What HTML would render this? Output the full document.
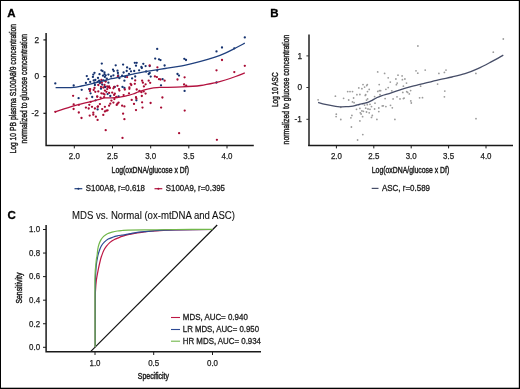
<!DOCTYPE html>
<html><head><meta charset="utf-8"><title>Figure</title>
<style>html,body{margin:0;padding:0;background:#fff;width:520px;height:389px;overflow:hidden}svg{display:block;will-change:transform;opacity:0.999}</style>
</head><body>
<svg width="520" height="389" viewBox="0 0 520 389">
<rect x="0" y="0" width="520" height="389" fill="#fff"/>
<text x="7.2" y="17.4" font-family="Liberation Sans, sans-serif" font-weight="bold" font-size="11.5" fill="#000" stroke="#000" stroke-width="0.3">A</text>
<g fill="#15326f"><circle cx="55.3" cy="83.4" r="1.15"/><circle cx="73.7" cy="85.5" r="1.15"/><circle cx="81.7" cy="89.8" r="1.15"/><circle cx="78.6" cy="98.2" r="1.15"/><circle cx="86.8" cy="76.1" r="1.15"/><circle cx="85.9" cy="82.9" r="1.15"/><circle cx="92.2" cy="97.0" r="1.15"/><circle cx="97.6" cy="109.4" r="1.15"/><circle cx="101.8" cy="63.6" r="1.15"/><circle cx="115.7" cy="65.3" r="1.15"/><circle cx="101.4" cy="70.3" r="1.15"/><circle cx="102.6" cy="71.1" r="1.15"/><circle cx="104.5" cy="72.3" r="1.15"/><circle cx="113.0" cy="69.6" r="1.15"/><circle cx="113.8" cy="71.1" r="1.15"/><circle cx="94.5" cy="72.8" r="1.15"/><circle cx="93.3" cy="74.6" r="1.15"/><circle cx="99.5" cy="74.2" r="1.15"/><circle cx="104.5" cy="74.2" r="1.15"/><circle cx="105.7" cy="75.3" r="1.15"/><circle cx="108.4" cy="74.6" r="1.15"/><circle cx="103.0" cy="75.7" r="1.15"/><circle cx="113.4" cy="75.3" r="1.15"/><circle cx="111.1" cy="76.5" r="1.15"/><circle cx="104.9" cy="76.9" r="1.15"/><circle cx="92.9" cy="76.9" r="1.15"/><circle cx="98.0" cy="77.9" r="1.15"/><circle cx="106.8" cy="78.7" r="1.15"/><circle cx="88.3" cy="79.2" r="1.15"/><circle cx="93.7" cy="80.4" r="1.15"/><circle cx="95.3" cy="80.0" r="1.15"/><circle cx="99.1" cy="80.7" r="1.15"/><circle cx="103.3" cy="80.4" r="1.15"/><circle cx="90.2" cy="81.9" r="1.15"/><circle cx="94.5" cy="82.7" r="1.15"/><circle cx="97.6" cy="81.9" r="1.15"/><circle cx="100.3" cy="81.9" r="1.15"/><circle cx="105.3" cy="81.1" r="1.15"/><circle cx="108.4" cy="82.7" r="1.15"/><circle cx="94.9" cy="85.0" r="1.15"/><circle cx="102.2" cy="84.6" r="1.15"/><circle cx="99.9" cy="83.1" r="1.15"/><circle cx="105.3" cy="86.9" r="1.15"/><circle cx="89.1" cy="89.1" r="1.15"/><circle cx="90.6" cy="93.3" r="1.15"/><circle cx="101.0" cy="88.7" r="1.15"/><circle cx="104.9" cy="87.2" r="1.15"/><circle cx="110.3" cy="96.0" r="1.15"/><circle cx="95.6" cy="100.3" r="1.15"/><circle cx="107.6" cy="94.1" r="1.15"/><circle cx="123.1" cy="64.6" r="1.15"/><circle cx="134.8" cy="62.8" r="1.15"/><circle cx="136.7" cy="62.8" r="1.15"/><circle cx="136.0" cy="65.7" r="1.15"/><circle cx="143.3" cy="63.8" r="1.15"/><circle cx="127.1" cy="67.4" r="1.15"/><circle cx="129.8" cy="68.8" r="1.15"/><circle cx="141.4" cy="66.9" r="1.15"/><circle cx="141.8" cy="68.0" r="1.15"/><circle cx="117.5" cy="70.7" r="1.15"/><circle cx="126.7" cy="71.0" r="1.15"/><circle cx="131.0" cy="71.3" r="1.15"/><circle cx="134.2" cy="71.0" r="1.15"/><circle cx="139.1" cy="70.3" r="1.15"/><circle cx="123.6" cy="72.5" r="1.15"/><circle cx="129.0" cy="73.8" r="1.15"/><circle cx="117.9" cy="73.0" r="1.15"/><circle cx="118.2" cy="75.3" r="1.15"/><circle cx="122.1" cy="75.7" r="1.15"/><circle cx="119.4" cy="78.2" r="1.15"/><circle cx="125.2" cy="76.9" r="1.15"/><circle cx="132.1" cy="78.4" r="1.15"/><circle cx="135.2" cy="76.5" r="1.15"/><circle cx="124.4" cy="80.7" r="1.15"/><circle cx="122.5" cy="86.9" r="1.15"/><circle cx="114.8" cy="86.9" r="1.15"/><circle cx="124.4" cy="87.9" r="1.15"/><circle cx="118.6" cy="96.4" r="1.15"/><circle cx="136.4" cy="100.3" r="1.15"/><circle cx="155.2" cy="58.6" r="1.15"/><circle cx="159.0" cy="59.3" r="1.15"/><circle cx="160.5" cy="60.1" r="1.15"/><circle cx="145.6" cy="66.1" r="1.15"/><circle cx="149.7" cy="66.1" r="1.15"/><circle cx="164.6" cy="65.5" r="1.15"/><circle cx="146.1" cy="71.5" r="1.15"/><circle cx="157.2" cy="70.6" r="1.15"/><circle cx="149.7" cy="73.0" r="1.15"/><circle cx="148.7" cy="74.0" r="1.15"/><circle cx="150.7" cy="76.6" r="1.15"/><circle cx="162.6" cy="79.2" r="1.15"/><circle cx="161.0" cy="85.3" r="1.15"/><circle cx="177.5" cy="74.0" r="1.15"/><circle cx="179.0" cy="75.6" r="1.15"/><circle cx="184.3" cy="58.8" r="1.15"/><circle cx="186.0" cy="60.0" r="1.15"/><circle cx="216.5" cy="51.4" r="1.15"/><circle cx="184.6" cy="90.9" r="1.15"/><circle cx="216.5" cy="82.5" r="1.15"/><circle cx="244.8" cy="37.4" r="1.15"/><circle cx="222.0" cy="47.5" r="1.15"/><circle cx="234.3" cy="48.3" r="1.15"/><circle cx="157.2" cy="48.9" r="1.15"/></g>
<g fill="#a80b33"><circle cx="73.1" cy="95.8" r="1.15"/><circle cx="86.6" cy="98.6" r="1.15"/><circle cx="73.7" cy="104.4" r="1.15"/><circle cx="78.9" cy="104.8" r="1.15"/><circle cx="85.9" cy="107.6" r="1.15"/><circle cx="73.6" cy="109.0" r="1.15"/><circle cx="78.8" cy="112.5" r="1.15"/><circle cx="81.5" cy="118.0" r="1.15"/><circle cx="88.7" cy="108.5" r="1.15"/><circle cx="89.3" cy="104.8" r="1.15"/><circle cx="90.7" cy="101.8" r="1.15"/><circle cx="92.0" cy="106.8" r="1.15"/><circle cx="94.9" cy="108.5" r="1.15"/><circle cx="93.3" cy="112.7" r="1.15"/><circle cx="93.3" cy="114.7" r="1.15"/><circle cx="89.7" cy="115.6" r="1.15"/><circle cx="95.9" cy="116.7" r="1.15"/><circle cx="97.6" cy="119.9" r="1.15"/><circle cx="97.6" cy="106.8" r="1.15"/><circle cx="97.2" cy="96.3" r="1.15"/><circle cx="101.4" cy="80.0" r="1.15"/><circle cx="98.3" cy="85.0" r="1.15"/><circle cx="101.8" cy="82.7" r="1.15"/><circle cx="104.5" cy="85.0" r="1.15"/><circle cx="101.0" cy="86.9" r="1.15"/><circle cx="107.2" cy="86.5" r="1.15"/><circle cx="109.1" cy="86.5" r="1.15"/><circle cx="114.1" cy="86.9" r="1.15"/><circle cx="105.7" cy="81.5" r="1.15"/><circle cx="94.5" cy="87.9" r="1.15"/><circle cx="90.2" cy="89.1" r="1.15"/><circle cx="89.9" cy="91.0" r="1.15"/><circle cx="93.7" cy="89.9" r="1.15"/><circle cx="95.3" cy="91.8" r="1.15"/><circle cx="98.3" cy="91.4" r="1.15"/><circle cx="103.3" cy="87.5" r="1.15"/><circle cx="107.2" cy="89.1" r="1.15"/><circle cx="108.4" cy="87.2" r="1.15"/><circle cx="109.9" cy="87.9" r="1.15"/><circle cx="113.4" cy="88.3" r="1.15"/><circle cx="104.9" cy="90.6" r="1.15"/><circle cx="106.4" cy="91.8" r="1.15"/><circle cx="101.4" cy="93.3" r="1.15"/><circle cx="103.3" cy="93.7" r="1.15"/><circle cx="104.5" cy="94.5" r="1.15"/><circle cx="109.1" cy="92.9" r="1.15"/><circle cx="112.2" cy="92.6" r="1.15"/><circle cx="114.1" cy="94.9" r="1.15"/><circle cx="97.2" cy="96.8" r="1.15"/><circle cx="100.6" cy="97.6" r="1.15"/><circle cx="104.1" cy="97.2" r="1.15"/><circle cx="111.4" cy="100.6" r="1.15"/><circle cx="113.4" cy="102.6" r="1.15"/><circle cx="110.3" cy="103.7" r="1.15"/><circle cx="109.1" cy="105.7" r="1.15"/><circle cx="99.9" cy="104.1" r="1.15"/><circle cx="98.0" cy="106.4" r="1.15"/><circle cx="104.9" cy="106.8" r="1.15"/><circle cx="102.2" cy="109.1" r="1.15"/><circle cx="104.9" cy="111.4" r="1.15"/><circle cx="106.4" cy="110.7" r="1.15"/><circle cx="107.6" cy="110.3" r="1.15"/><circle cx="103.3" cy="114.9" r="1.15"/><circle cx="123.1" cy="113.7" r="1.15"/><circle cx="124.4" cy="119.2" r="1.15"/><circle cx="105.7" cy="130.2" r="1.15"/><circle cx="122.5" cy="137.9" r="1.15"/><circle cx="117.9" cy="76.5" r="1.15"/><circle cx="127.1" cy="77.1" r="1.15"/><circle cx="135.2" cy="80.4" r="1.15"/><circle cx="142.1" cy="80.7" r="1.15"/><circle cx="142.9" cy="82.7" r="1.15"/><circle cx="130.6" cy="83.8" r="1.15"/><circle cx="131.3" cy="85.0" r="1.15"/><circle cx="134.8" cy="83.8" r="1.15"/><circle cx="117.5" cy="85.8" r="1.15"/><circle cx="129.4" cy="87.3" r="1.15"/><circle cx="119.0" cy="89.1" r="1.15"/><circle cx="119.4" cy="90.6" r="1.15"/><circle cx="124.8" cy="89.5" r="1.15"/><circle cx="129.4" cy="88.8" r="1.15"/><circle cx="136.7" cy="89.5" r="1.15"/><circle cx="139.4" cy="91.0" r="1.15"/><circle cx="141.4" cy="92.2" r="1.15"/><circle cx="143.7" cy="91.4" r="1.15"/><circle cx="114.8" cy="93.7" r="1.15"/><circle cx="129.0" cy="93.3" r="1.15"/><circle cx="123.6" cy="95.1" r="1.15"/><circle cx="116.3" cy="96.8" r="1.15"/><circle cx="114.4" cy="99.1" r="1.15"/><circle cx="136.0" cy="97.2" r="1.15"/><circle cx="136.4" cy="98.7" r="1.15"/><circle cx="141.8" cy="96.0" r="1.15"/><circle cx="131.7" cy="99.9" r="1.15"/><circle cx="118.6" cy="102.6" r="1.15"/><circle cx="117.5" cy="103.7" r="1.15"/><circle cx="116.7" cy="104.9" r="1.15"/><circle cx="134.0" cy="103.9" r="1.15"/><circle cx="142.1" cy="102.3" r="1.15"/><circle cx="122.1" cy="105.7" r="1.15"/><circle cx="124.4" cy="106.4" r="1.15"/><circle cx="142.5" cy="107.6" r="1.15"/><circle cx="136.0" cy="110.1" r="1.15"/><circle cx="149.7" cy="65.5" r="1.15"/><circle cx="157.4" cy="67.3" r="1.15"/><circle cx="154.9" cy="76.4" r="1.15"/><circle cx="156.9" cy="77.1" r="1.15"/><circle cx="159.0" cy="79.2" r="1.15"/><circle cx="160.5" cy="79.5" r="1.15"/><circle cx="164.6" cy="80.7" r="1.15"/><circle cx="177.5" cy="79.5" r="1.15"/><circle cx="148.7" cy="80.7" r="1.15"/><circle cx="150.2" cy="82.8" r="1.15"/><circle cx="145.6" cy="84.3" r="1.15"/><circle cx="143.9" cy="86.4" r="1.15"/><circle cx="145.6" cy="93.6" r="1.15"/><circle cx="162.4" cy="97.5" r="1.15"/><circle cx="150.6" cy="103.0" r="1.15"/><circle cx="161.1" cy="107.6" r="1.15"/><circle cx="179.1" cy="133.2" r="1.15"/><circle cx="216.5" cy="70.3" r="1.15"/><circle cx="184.6" cy="77.3" r="1.15"/><circle cx="184.1" cy="84.5" r="1.15"/><circle cx="186.2" cy="85.7" r="1.15"/><circle cx="184.7" cy="110.6" r="1.15"/><circle cx="216.9" cy="139.8" r="1.15"/><circle cx="222.0" cy="60.0" r="1.15"/><circle cx="244.8" cy="65.8" r="1.15"/><circle cx="234.3" cy="72.1" r="1.15"/><circle cx="55.3" cy="111.8" r="1.15"/></g>
<path d="M55.6,87.6 C57.33,87.62 62.98,87.73 66,87.7 C69.02,87.67 71.13,87.68 73.7,87.4 C76.27,87.12 78.83,86.52 81.4,86 C83.97,85.48 86.80,84.83 89.1,84.3 C91.40,83.77 93.28,83.30 95.2,82.8 C97.12,82.30 98.80,81.75 100.6,81.3 C102.40,80.85 104.15,80.53 106,80.1 C107.85,79.67 109.47,79.20 111.7,78.7 C113.93,78.20 116.83,77.63 119.4,77.1 C121.97,76.57 124.53,76.08 127.1,75.5 C129.67,74.92 131.98,74.22 134.8,73.6 C137.62,72.98 141.47,72.25 144,71.8 C146.53,71.35 146.50,71.45 150,70.9 C153.50,70.35 159.67,69.33 165,68.5 C170.33,67.67 176.07,67.08 182,65.9 C187.93,64.72 195.10,62.85 200.6,61.4 C206.10,59.95 210.88,58.58 215,57.2 C219.12,55.82 221.87,54.63 225.3,53.1 C228.73,51.57 232.35,49.65 235.6,48 C238.85,46.35 243.27,44.00 244.8,43.2" fill="none" stroke="#1f3f7d" stroke-width="1.3"/>
<path d="M55.3,111.8 C58.55,110.78 68.35,107.52 74.8,105.7 C81.25,103.88 89.80,101.97 94,100.9 C98.20,99.83 98.25,99.80 100,99.3 C101.75,98.80 102.52,98.15 104.5,97.9 C106.48,97.65 109.78,97.87 111.9,97.8 C114.02,97.73 115.43,97.68 117.2,97.5 C118.97,97.32 120.75,97.05 122.5,96.7 C124.25,96.35 125.95,95.85 127.7,95.4 C129.45,94.95 131.23,94.58 133,94 C134.77,93.42 136.53,92.55 138.3,91.9 C140.07,91.25 141.48,90.70 143.6,90.1 C145.72,89.50 148.77,88.72 151,88.3 C153.23,87.88 155.07,87.75 157,87.6 C158.93,87.45 158.43,87.52 162.6,87.4 C166.77,87.28 175.67,87.22 182,86.9 C188.33,86.58 195.10,86.18 200.6,85.5 C206.10,84.82 210.88,83.72 215,82.8 C219.12,81.88 221.87,81.05 225.3,80 C228.73,78.95 232.35,77.68 235.6,76.5 C238.85,75.32 243.27,73.50 244.8,72.9" fill="none" stroke="#b3123f" stroke-width="1.3"/>
<path d="M46.1,33 V146.1 M45.35,145.4 H253.8" stroke="#1a1a1a" stroke-width="1.5" fill="none"/>
<path d="M43.4,39.9 H46" stroke="#1a1a1a" stroke-width="1.2"/>
<text x="39" y="42.75" font-family="Liberation Sans, sans-serif" font-size="8.3" fill="#222" stroke="#222" stroke-width="0.25" text-anchor="end">2</text>
<path d="M43.4,76.6 H46" stroke="#1a1a1a" stroke-width="1.2"/>
<text x="39" y="79.44999999999999" font-family="Liberation Sans, sans-serif" font-size="8.3" fill="#222" stroke="#222" stroke-width="0.25" text-anchor="end">0</text>
<path d="M43.4,113.3 H46" stroke="#1a1a1a" stroke-width="1.2"/>
<text x="39" y="116.14999999999999" font-family="Liberation Sans, sans-serif" font-size="8.3" fill="#222" stroke="#222" stroke-width="0.25" text-anchor="end">-2</text>
<path d="M74.3,145.5 V148.4" stroke="#1a1a1a" stroke-width="1"/>
<text x="74.3" y="158.8" font-family="Liberation Sans, sans-serif" font-size="8.3" fill="#222" stroke="#222" stroke-width="0.25" text-anchor="middle" textLength="11" lengthAdjust="spacingAndGlyphs">2.0</text>
<path d="M112.5,145.5 V148.4" stroke="#1a1a1a" stroke-width="1"/>
<text x="112.5" y="158.8" font-family="Liberation Sans, sans-serif" font-size="8.3" fill="#222" stroke="#222" stroke-width="0.25" text-anchor="middle" textLength="11" lengthAdjust="spacingAndGlyphs">2.5</text>
<path d="M150.7,145.5 V148.4" stroke="#1a1a1a" stroke-width="1"/>
<text x="150.7" y="158.8" font-family="Liberation Sans, sans-serif" font-size="8.3" fill="#222" stroke="#222" stroke-width="0.25" text-anchor="middle" textLength="11" lengthAdjust="spacingAndGlyphs">3.0</text>
<path d="M188.8,145.5 V148.4" stroke="#1a1a1a" stroke-width="1"/>
<text x="188.8" y="158.8" font-family="Liberation Sans, sans-serif" font-size="8.3" fill="#222" stroke="#222" stroke-width="0.25" text-anchor="middle" textLength="11" lengthAdjust="spacingAndGlyphs">3.5</text>
<path d="M227,145.5 V148.4" stroke="#1a1a1a" stroke-width="1"/>
<text x="227" y="158.8" font-family="Liberation Sans, sans-serif" font-size="8.3" fill="#222" stroke="#222" stroke-width="0.25" text-anchor="middle" textLength="11" lengthAdjust="spacingAndGlyphs">4.0</text>
<text x="111.6" y="172.6" font-family="Liberation Sans, sans-serif" font-size="9.6" fill="#222" stroke="#222" stroke-width="0.45" textLength="77.4" lengthAdjust="spacingAndGlyphs">Log(oxDNA/glucose x Df)</text>
<text transform="translate(15.8,153.6) rotate(-90)" font-family="Liberation Sans, sans-serif" font-size="9.6" fill="#222" stroke="#222" stroke-width="0.45" textLength="129.7" lengthAdjust="spacingAndGlyphs">Log 10 PB plasma S100A8/9 concentration</text>
<text transform="translate(26.8,143.6) rotate(-90)" font-family="Liberation Sans, sans-serif" font-size="9.6" fill="#222" stroke="#222" stroke-width="0.45" textLength="109.7" lengthAdjust="spacingAndGlyphs">normalized to glucose concentration</text>
<path d="M74.5,188.7 H82.3" stroke="#1f3f7d" stroke-width="1.2"/><circle cx="78.4" cy="188.7" r="1" fill="#15326f"/>
<text x="85.8" y="191.1" font-family="Liberation Sans, sans-serif" font-size="8.5" fill="#222" stroke="#222" stroke-width="0.3" textLength="59.2" lengthAdjust="spacingAndGlyphs">S100A8, r=0.618</text>
<path d="M154.5,188.7 H162.3" stroke="#b3123f" stroke-width="1.2"/><circle cx="158.4" cy="188.7" r="1" fill="#a80b33"/>
<text x="165.8" y="191.1" font-family="Liberation Sans, sans-serif" font-size="8.5" fill="#222" stroke="#222" stroke-width="0.3" textLength="59.2" lengthAdjust="spacingAndGlyphs">S100A9, r=0.395</text>
<text x="270.3" y="17.4" font-family="Liberation Sans, sans-serif" font-weight="bold" font-size="11.5" fill="#000" stroke="#000" stroke-width="0.3">B</text>
<g fill="#9c9c9c"><circle cx="318.1" cy="99.8" r="0.9"/><circle cx="335.4" cy="96.2" r="0.9"/><circle cx="343.6" cy="98.3" r="0.9"/><circle cx="347.7" cy="91.6" r="0.9"/><circle cx="350" cy="91.6" r="0.9"/><circle cx="352.5" cy="91.6" r="0.9"/><circle cx="348.7" cy="100" r="0.9"/><circle cx="353.6" cy="98" r="0.9"/><circle cx="352.5" cy="101.9" r="0.9"/><circle cx="354.1" cy="102.7" r="0.9"/><circle cx="336.3" cy="114.2" r="0.9"/><circle cx="336.1" cy="116.6" r="0.9"/><circle cx="340.8" cy="119.5" r="0.9"/><circle cx="351.9" cy="115.4" r="0.9"/><circle cx="350.9" cy="117.8" r="0.9"/><circle cx="351.4" cy="127" r="0.9"/><circle cx="340.8" cy="107.3" r="0.9"/><circle cx="377.7" cy="71.9" r="0.9"/><circle cx="363" cy="84.6" r="0.9"/><circle cx="367.3" cy="84.6" r="0.9"/><circle cx="366.7" cy="85.6" r="0.9"/><circle cx="364.6" cy="87.1" r="0.9"/><circle cx="358.8" cy="87.9" r="0.9"/><circle cx="361.9" cy="88.7" r="0.9"/><circle cx="369.2" cy="89.4" r="0.9"/><circle cx="367.5" cy="91.6" r="0.9"/><circle cx="379.2" cy="84.6" r="0.9"/><circle cx="377.8" cy="91.4" r="0.9"/><circle cx="379.4" cy="90.7" r="0.9"/><circle cx="380.6" cy="90.7" r="0.9"/><circle cx="356.9" cy="94.7" r="0.9"/><circle cx="359.9" cy="94.5" r="0.9"/><circle cx="365.7" cy="94.7" r="0.9"/><circle cx="365.3" cy="95.4" r="0.9"/><circle cx="367.6" cy="98.9" r="0.9"/><circle cx="374.6" cy="96.6" r="0.9"/><circle cx="380" cy="94.7" r="0.9"/><circle cx="366.5" cy="100.1" r="0.9"/><circle cx="375" cy="103.2" r="0.9"/><circle cx="364.6" cy="105.1" r="0.9"/><circle cx="367.3" cy="104.7" r="0.9"/><circle cx="370" cy="104.3" r="0.9"/><circle cx="371.5" cy="106.6" r="0.9"/><circle cx="356.5" cy="109.3" r="0.9"/><circle cx="359.9" cy="108.4" r="0.9"/><circle cx="365.7" cy="108.2" r="0.9"/><circle cx="368" cy="109" r="0.9"/><circle cx="370" cy="109.3" r="0.9"/><circle cx="374.6" cy="109" r="0.9"/><circle cx="378.8" cy="108" r="0.9"/><circle cx="382.3" cy="105.9" r="0.9"/><circle cx="361.9" cy="110.9" r="0.9"/><circle cx="363.4" cy="111.3" r="0.9"/><circle cx="366.5" cy="112" r="0.9"/><circle cx="360.3" cy="112.8" r="0.9"/><circle cx="361.1" cy="114" r="0.9"/><circle cx="369.2" cy="112.8" r="0.9"/><circle cx="378.8" cy="111.6" r="0.9"/><circle cx="372.3" cy="115.5" r="0.9"/><circle cx="371.5" cy="117.4" r="0.9"/><circle cx="362.6" cy="116.7" r="0.9"/><circle cx="376.9" cy="119.4" r="0.9"/><circle cx="359.9" cy="120.9" r="0.9"/><circle cx="362.8" cy="134.6" r="0.9"/><circle cx="357.6" cy="140" r="0.9"/><circle cx="384.6" cy="73.4" r="0.9"/><circle cx="416" cy="70.8" r="0.9"/><circle cx="417.8" cy="73.2" r="0.9"/><circle cx="388.2" cy="77.8" r="0.9"/><circle cx="398" cy="75.2" r="0.9"/><circle cx="402.1" cy="75.9" r="0.9"/><circle cx="395.9" cy="79" r="0.9"/><circle cx="402.4" cy="79.7" r="0.9"/><circle cx="404.9" cy="79" r="0.9"/><circle cx="390.3" cy="82.1" r="0.9"/><circle cx="397.2" cy="83.1" r="0.9"/><circle cx="396.4" cy="84.7" r="0.9"/><circle cx="406.5" cy="83.1" r="0.9"/><circle cx="388.2" cy="87.6" r="0.9"/><circle cx="385.9" cy="89.3" r="0.9"/><circle cx="403.4" cy="86.2" r="0.9"/><circle cx="391.8" cy="90.8" r="0.9"/><circle cx="402.8" cy="92.4" r="0.9"/><circle cx="406.7" cy="91.7" r="0.9"/><circle cx="407.7" cy="92.4" r="0.9"/><circle cx="410.6" cy="90.6" r="0.9"/><circle cx="409.3" cy="93.9" r="0.9"/><circle cx="385.1" cy="98.6" r="0.9"/><circle cx="393.1" cy="98.9" r="0.9"/><circle cx="397" cy="96.8" r="0.9"/><circle cx="400" cy="98.9" r="0.9"/><circle cx="403.4" cy="98.6" r="0.9"/><circle cx="419.6" cy="97.8" r="0.9"/><circle cx="420.6" cy="86.2" r="0.9"/><circle cx="404.1" cy="98.1" r="0.9"/><circle cx="410.8" cy="100.9" r="0.9"/><circle cx="411.3" cy="103" r="0.9"/><circle cx="383.3" cy="105.8" r="0.9"/><circle cx="385.9" cy="106.6" r="0.9"/><circle cx="390.5" cy="105.3" r="0.9"/><circle cx="392.3" cy="107.8" r="0.9"/><circle cx="394.9" cy="119.4" r="0.9"/><circle cx="425.2" cy="70.1" r="0.9"/><circle cx="438.9" cy="73.4" r="0.9"/><circle cx="444.4" cy="72.4" r="0.9"/><circle cx="446" cy="70.1" r="0.9"/><circle cx="437.6" cy="84.1" r="0.9"/><circle cx="422.5" cy="97.7" r="0.9"/><circle cx="444.8" cy="91.1" r="0.9"/><circle cx="444.4" cy="96.8" r="0.9"/><circle cx="503.3" cy="39" r="0.9"/><circle cx="493.3" cy="52.2" r="0.9"/><circle cx="475.9" cy="73.4" r="0.9"/><circle cx="476" cy="118.7" r="0.9"/><circle cx="417.9" cy="46" r="0.9"/></g>
<path d="M318.1,102.4 C319.30,102.73 322.38,103.73 325.3,104.4 C328.22,105.07 333.03,106.00 335.6,106.4 C338.17,106.80 338.97,106.75 340.7,106.8 C342.43,106.85 344.28,106.78 346,106.7 C347.72,106.62 349.50,106.48 351,106.3 C352.50,106.12 353.63,105.90 355,105.6 C356.37,105.30 357.78,104.85 359.2,104.5 C360.62,104.15 362.05,103.85 363.5,103.5 C364.95,103.15 366.53,102.88 367.9,102.4 C369.27,101.92 370.27,101.37 371.7,100.6 C373.13,99.83 374.90,98.60 376.5,97.8 C378.10,97.00 378.83,96.63 381.3,95.8 C383.77,94.97 387.92,93.88 391.3,92.8 C394.68,91.72 398.18,90.37 401.6,89.3 C405.02,88.23 408.57,87.25 411.8,86.4 C415.03,85.55 416.55,85.30 421,84.2 C425.45,83.10 433.33,81.00 438.5,79.8 C443.67,78.60 447.58,78.02 452,77 C456.42,75.98 460.68,75.10 465,73.7 C469.32,72.30 473.62,70.53 477.9,68.6 C482.18,66.67 486.47,64.35 490.7,62.1 C494.93,59.85 501.20,56.27 503.3,55.1" fill="none" stroke="#474e68" stroke-width="1.3"/>
<path d="M309,34.5 V146" stroke="#3a3a3a" stroke-width="1.7" fill="none"/>
<path d="M308.2,145.4 H513" stroke="#1a1a1a" stroke-width="1.5" fill="none"/>
<path d="M306.4,55.9 H309" stroke="#333" stroke-width="1"/>
<text x="302" y="58.75" font-family="Liberation Sans, sans-serif" font-size="8.3" fill="#222" stroke="#222" stroke-width="0.25" text-anchor="end">1</text>
<path d="M306.4,87.5 H309" stroke="#333" stroke-width="1"/>
<text x="302" y="90.35" font-family="Liberation Sans, sans-serif" font-size="8.3" fill="#222" stroke="#222" stroke-width="0.25" text-anchor="end">0</text>
<path d="M306.4,119.3 H309" stroke="#333" stroke-width="1"/>
<text x="302" y="122.14999999999999" font-family="Liberation Sans, sans-serif" font-size="8.3" fill="#222" stroke="#222" stroke-width="0.25" text-anchor="end">-1</text>
<path d="M336.4,145.5 V148.4" stroke="#1a1a1a" stroke-width="1"/>
<text x="336.4" y="158.8" font-family="Liberation Sans, sans-serif" font-size="8.3" fill="#222" stroke="#222" stroke-width="0.25" text-anchor="middle" textLength="11" lengthAdjust="spacingAndGlyphs">2.0</text>
<path d="M373.8,145.5 V148.4" stroke="#1a1a1a" stroke-width="1"/>
<text x="373.8" y="158.8" font-family="Liberation Sans, sans-serif" font-size="8.3" fill="#222" stroke="#222" stroke-width="0.25" text-anchor="middle" textLength="11" lengthAdjust="spacingAndGlyphs">2.5</text>
<path d="M411.2,145.5 V148.4" stroke="#1a1a1a" stroke-width="1"/>
<text x="411.2" y="158.8" font-family="Liberation Sans, sans-serif" font-size="8.3" fill="#222" stroke="#222" stroke-width="0.25" text-anchor="middle" textLength="11" lengthAdjust="spacingAndGlyphs">3.0</text>
<path d="M448.6,145.5 V148.4" stroke="#1a1a1a" stroke-width="1"/>
<text x="448.6" y="158.8" font-family="Liberation Sans, sans-serif" font-size="8.3" fill="#222" stroke="#222" stroke-width="0.25" text-anchor="middle" textLength="11" lengthAdjust="spacingAndGlyphs">3.5</text>
<path d="M486,145.5 V148.4" stroke="#1a1a1a" stroke-width="1"/>
<text x="486" y="158.8" font-family="Liberation Sans, sans-serif" font-size="8.3" fill="#222" stroke="#222" stroke-width="0.25" text-anchor="middle" textLength="11" lengthAdjust="spacingAndGlyphs">4.0</text>
<text x="371.8" y="172.6" font-family="Liberation Sans, sans-serif" font-size="9.6" fill="#222" stroke="#222" stroke-width="0.45" textLength="77.4" lengthAdjust="spacingAndGlyphs">Log(oxDNA/glucose x Df)</text>
<text transform="translate(278,107) rotate(-90)" font-family="Liberation Sans, sans-serif" font-size="9.6" fill="#222" stroke="#222" stroke-width="0.45" textLength="34.6" lengthAdjust="spacingAndGlyphs">Log 10 ASC</text>
<text transform="translate(288.8,144.4) rotate(-90)" font-family="Liberation Sans, sans-serif" font-size="9.6" fill="#222" stroke="#222" stroke-width="0.45" textLength="109.7" lengthAdjust="spacingAndGlyphs">normalized to glucose concentration</text>
<path d="M371.7,188.4 H378.5" stroke="#474e68" stroke-width="1.2"/>
<text x="382" y="191" font-family="Liberation Sans, sans-serif" font-size="8.5" fill="#222" stroke="#222" stroke-width="0.3" textLength="48" lengthAdjust="spacingAndGlyphs">ASC, r=0.589</text>
<text x="7.4" y="219.4" font-family="Liberation Sans, sans-serif" font-weight="bold" font-size="11.5" fill="#000" stroke="#000" stroke-width="0.3">C</text>
<text x="72" y="219" font-family="Liberation Sans, sans-serif" font-size="10" fill="#111" stroke="#111" stroke-width="0.1" textLength="163" lengthAdjust="spacingAndGlyphs">MDS vs. Normal (ox-mtDNA and ASC)</text>
<path d="M90.6,351.6 L217.2,225" stroke="#111" stroke-width="1.2" fill="none"/>
<path d="M95.3,347.3 C95.30,339.42 95.27,309.42 95.3,300 C95.33,290.58 95.33,294.03 95.5,290.8 C95.67,287.57 95.87,284.02 96.3,280.6 C96.73,277.18 97.42,273.73 98.1,270.3 C98.78,266.87 99.82,262.38 100.4,260 C100.98,257.62 101.07,257.55 101.6,256 C102.13,254.45 102.82,252.30 103.6,250.7 C104.38,249.10 105.28,247.75 106.3,246.4 C107.32,245.05 108.35,243.75 109.7,242.6 C111.05,241.45 112.85,240.33 114.4,239.5 C115.95,238.67 117.73,238.12 119,237.6 C120.27,237.08 120.50,236.90 122,236.4 C123.50,235.90 125.90,235.12 128,234.6 C130.10,234.08 131.93,233.73 134.6,233.3 C137.27,232.87 141.43,232.35 144,232 C146.57,231.65 146.75,231.48 150,231.2 C153.25,230.92 159.33,230.52 163.5,230.3 C167.67,230.08 166.87,230.03 175,229.9 C183.13,229.77 206.08,229.57 212.3,229.5" fill="none" stroke="#bd1744" stroke-width="1.2"/>
<path d="M95.2,347.3 C95.20,339.42 95.17,311.22 95.2,300 C95.23,288.78 95.22,285.83 95.4,280 C95.58,274.17 95.90,269.00 96.3,265 C96.70,261.00 97.30,258.38 97.8,256 C98.30,253.62 98.72,252.37 99.3,250.7 C99.88,249.03 100.47,247.42 101.3,246 C102.13,244.58 103.15,243.35 104.3,242.2 C105.45,241.05 106.78,239.93 108.2,239.1 C109.62,238.27 111.27,237.73 112.8,237.2 C114.33,236.67 115.87,236.25 117.4,235.9 C118.93,235.55 120.23,235.38 122,235.1 C123.77,234.82 125.90,234.58 128,234.2 C130.10,233.82 131.90,233.23 134.6,232.8 C137.30,232.37 141.00,231.93 144.2,231.6 C147.40,231.27 150.58,231.03 153.8,230.8 C157.02,230.57 159.97,230.35 163.5,230.2 C167.03,230.05 166.87,230.02 175,229.9 C183.13,229.78 206.08,229.57 212.3,229.5" fill="none" stroke="#2c4a94" stroke-width="1.2"/>
<path d="M95.1,347.3 C95.08,339.42 95.02,311.98 95,300 C94.98,288.02 94.78,282.07 95,275.4 C95.22,268.73 95.97,263.23 96.3,260 C96.63,256.77 96.75,257.82 97,256 C97.25,254.18 97.48,251.02 97.8,249.1 C98.12,247.18 98.38,246.03 98.9,244.5 C99.42,242.97 100.12,241.25 100.9,239.9 C101.68,238.55 102.52,237.43 103.6,236.4 C104.68,235.37 106.00,234.40 107.4,233.7 C108.80,233.00 110.33,232.65 112,232.2 C113.67,231.75 115.73,231.28 117.4,231 C119.07,230.72 120.23,230.65 122,230.5 C123.77,230.35 123.33,230.22 128,230.1 C132.67,229.98 142.17,229.90 150,229.8 C157.83,229.70 164.62,229.57 175,229.5 C185.38,229.43 206.08,229.42 212.3,229.4" fill="none" stroke="#72b74b" stroke-width="1.2"/>
<path d="M46.1,225.1 V352.4 M45.35,351.7 H261" stroke="#1a1a1a" stroke-width="1.5" fill="none"/>
<path d="M43,229.5 H46" stroke="#1a1a1a" stroke-width="1"/>
<text x="40.1" y="232.35" font-family="Liberation Sans, sans-serif" font-size="8.3" fill="#222" stroke="#222" stroke-width="0.25" text-anchor="end" textLength="11" lengthAdjust="spacingAndGlyphs">1.0</text>
<path d="M43,253.06 H46" stroke="#1a1a1a" stroke-width="1"/>
<text x="40.1" y="255.91" font-family="Liberation Sans, sans-serif" font-size="8.3" fill="#222" stroke="#222" stroke-width="0.25" text-anchor="end" textLength="11" lengthAdjust="spacingAndGlyphs">0.8</text>
<path d="M43,276.62 H46" stroke="#1a1a1a" stroke-width="1"/>
<text x="40.1" y="279.47" font-family="Liberation Sans, sans-serif" font-size="8.3" fill="#222" stroke="#222" stroke-width="0.25" text-anchor="end" textLength="11" lengthAdjust="spacingAndGlyphs">0.6</text>
<path d="M43,300.18 H46" stroke="#1a1a1a" stroke-width="1"/>
<text x="40.1" y="303.03000000000003" font-family="Liberation Sans, sans-serif" font-size="8.3" fill="#222" stroke="#222" stroke-width="0.25" text-anchor="end" textLength="11" lengthAdjust="spacingAndGlyphs">0.4</text>
<path d="M43,323.74 H46" stroke="#1a1a1a" stroke-width="1"/>
<text x="40.1" y="326.59000000000003" font-family="Liberation Sans, sans-serif" font-size="8.3" fill="#222" stroke="#222" stroke-width="0.25" text-anchor="end" textLength="11" lengthAdjust="spacingAndGlyphs">0.2</text>
<path d="M43,347.3 H46" stroke="#1a1a1a" stroke-width="1"/>
<text x="40.1" y="350.15000000000003" font-family="Liberation Sans, sans-serif" font-size="8.3" fill="#222" stroke="#222" stroke-width="0.25" text-anchor="end" textLength="11" lengthAdjust="spacingAndGlyphs">0.0</text>
<path d="M95,352 V355" stroke="#1a1a1a" stroke-width="1"/>
<text x="95" y="365.6" font-family="Liberation Sans, sans-serif" font-size="8.3" fill="#222" stroke="#222" stroke-width="0.25" text-anchor="middle" textLength="11" lengthAdjust="spacingAndGlyphs">1.0</text>
<path d="M153.7,352 V355" stroke="#1a1a1a" stroke-width="1"/>
<text x="153.7" y="365.6" font-family="Liberation Sans, sans-serif" font-size="8.3" fill="#222" stroke="#222" stroke-width="0.25" text-anchor="middle" textLength="11" lengthAdjust="spacingAndGlyphs">0.5</text>
<path d="M212.5,352 V355" stroke="#1a1a1a" stroke-width="1"/>
<text x="212.5" y="365.6" font-family="Liberation Sans, sans-serif" font-size="8.3" fill="#222" stroke="#222" stroke-width="0.25" text-anchor="middle" textLength="11" lengthAdjust="spacingAndGlyphs">0.0</text>
<text x="137.8" y="378.6" font-family="Liberation Sans, sans-serif" font-size="8.9" fill="#222" stroke="#222" stroke-width="0.45" textLength="31.2" lengthAdjust="spacingAndGlyphs">Specificity</text>
<text transform="translate(22.3,303.5) rotate(-90)" font-family="Liberation Sans, sans-serif" font-size="8.9" fill="#222" stroke="#222" stroke-width="0.45" textLength="30.8" lengthAdjust="spacingAndGlyphs">Sensitivity</text>
<path d="M171,317.5 H180" stroke="#bd1744" stroke-width="1.1"/>
<text x="182.8" y="320.20000000000005" font-family="Liberation Sans, sans-serif" font-size="8.5" fill="#222" stroke="#222" stroke-width="0.3" textLength="65" lengthAdjust="spacingAndGlyphs">MDS, AUC= 0.940</text>
<path d="M171,329.5 H180" stroke="#2c4a94" stroke-width="1.1"/>
<text x="182.8" y="332.20000000000005" font-family="Liberation Sans, sans-serif" font-size="8.5" fill="#222" stroke="#222" stroke-width="0.3" textLength="76.2" lengthAdjust="spacingAndGlyphs">LR MDS, AUC= 0.950</text>
<path d="M171,341.2 H180" stroke="#72b74b" stroke-width="1.1"/>
<text x="182.8" y="343.90000000000003" font-family="Liberation Sans, sans-serif" font-size="8.5" fill="#222" stroke="#222" stroke-width="0.3" textLength="78.2" lengthAdjust="spacingAndGlyphs">HR MDS, AUC= 0.934</text>
<rect x="0.5" y="0.5" width="518.8" height="387.7" fill="none" stroke="#000" stroke-width="1"/>
<path d="M519.5,0 V389 M0,388.5 H520" stroke="#000" stroke-width="1"/>
</svg>
</body></html>
